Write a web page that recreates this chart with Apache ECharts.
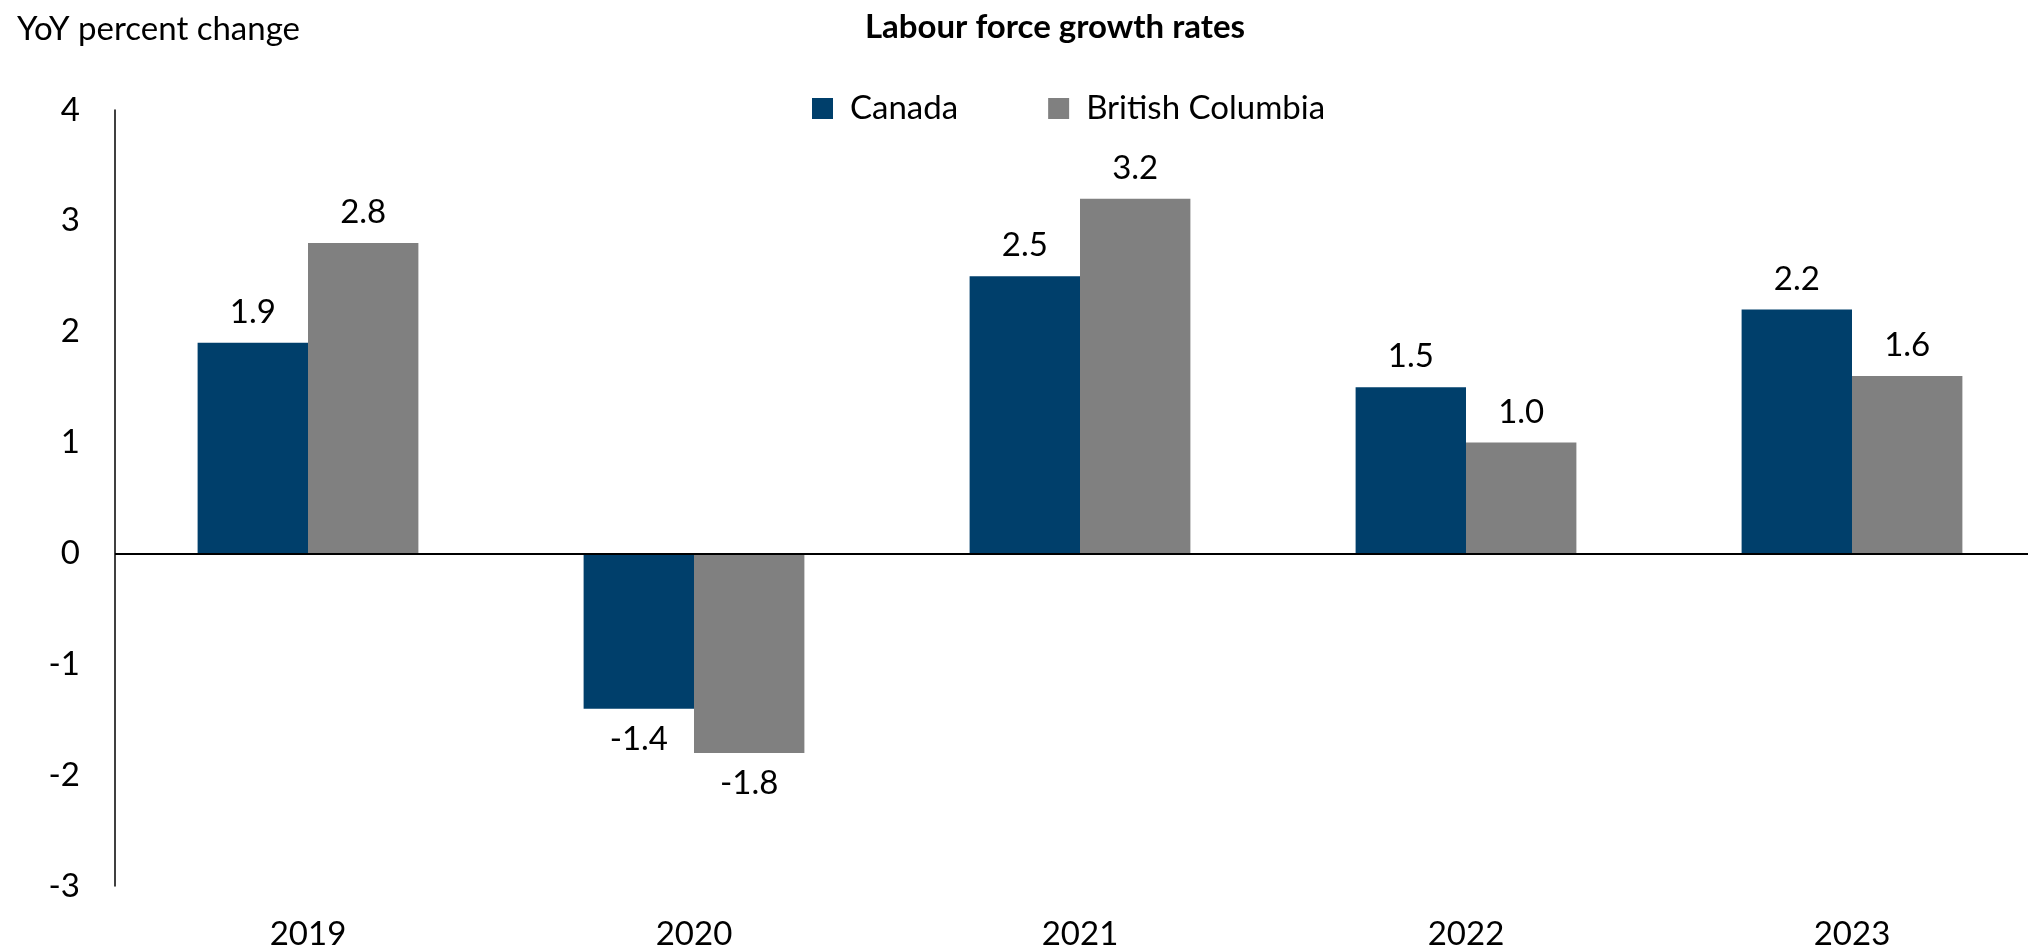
<!DOCTYPE html>
<html>
<head>
<meta charset="utf-8">
<script src="https://cdn.jsdelivr.net/npm/echarts@6/dist/echarts.min.js"></script>
<style>
  html, body { margin: 0; padding: 0; background: #ffffff; overflow: hidden; }
  #chart { width: 2028px; height: 950px; }
</style>
</head>
<body>
<div id="chart"></div>
<script>
// Year-over-year labour force growth, percent
const years = ['2019', '2020', '2021', '2022', '2023'];
const canada = [1.9, -1.4, 2.5, 1.5, 2.2];
const britishColumbia = [2.8, -1.8, 3.2, 1.0, 1.6];
const seriesNames = ['Canada', 'British Columbia'];

const FONT = 'Lato';
const SIZE = 33;

function barData(values) {
  return values.map(v => ({
    value: v,
    label: { position: v < 0 ? 'bottom' : 'top' }
  }));
}

const labelStyle = {
  show: true,
  distance: 14,
  color: '#000',
  fontFamily: FONT,
  fontSize: SIZE,
  formatter: p => p.value.toFixed(1)
};

const chart = echarts.init(document.getElementById('chart'), null, { renderer: 'canvas' });

chart.setOption({
  animation: false,
  backgroundColor: '#ffffff',
  title: [
    {
      text: 'Labour force growth rates',
      left: 1050,
      textAlign: 'center',
      top: 6,
      textStyle: { fontFamily: FONT, fontSize: SIZE, fontWeight: 'bold', color: '#000' }
    },
    {
      text: 'YoY percent change',
      left: 12,
      top: 8,
      textStyle: { fontFamily: FONT, fontSize: SIZE, fontWeight: 'normal', color: '#000' }
    }
  ],
  legend: {
    data: seriesNames,
    left: 807,
    top: 87,
    icon: 'rect',
    itemWidth: 21,
    itemHeight: 21,
    itemGap: 90,
    textStyle: { fontFamily: FONT, fontSize: SIZE, color: '#000', padding: [0, 0, 0, 12] }
  },
  // the plot area runs slightly past the right edge of the canvas
  grid: {
    left: 115,
    width: 1930,
    top: 110,
    bottom: 64,
    containLabel: false,
    outerBoundsMode: 'none'
  },
  xAxis: {
    type: 'category',
    data: years,
    axisLine: { show: false, onZero: false },
    axisTick: { show: false },
    axisLabel: { color: '#000', fontFamily: FONT, fontSize: SIZE, margin: 32 }
  },
  yAxis: {
    type: 'value',
    min: -3,
    max: 4,
    interval: 1,
    splitLine: { show: false },
    axisTick: { show: false },
    axisLine: { show: true, lineStyle: { color: '#000', width: 1.5 } },
    axisLabel: { color: '#000', fontFamily: FONT, fontSize: SIZE, margin: 35 }
  },
  series: [
    {
      name: seriesNames[0],
      type: 'bar',
      data: barData(canada),
      barWidth: '28.6%',
      barGap: '0%',
      itemStyle: { color: '#003F6B' },
      label: labelStyle,
      markLine: {
        silent: true,
        symbol: 'none',
        label: { show: false },
        lineStyle: { color: '#000', width: 2, type: 'solid' },
        data: [{ yAxis: 0 }]
      }
    },
    {
      name: seriesNames[1],
      type: 'bar',
      data: barData(britishColumbia),
      barWidth: '28.6%',
      barGap: '0%',
      itemStyle: { color: '#808080' },
      label: labelStyle
    }
  ]
});
</script>
</body>
</html>
